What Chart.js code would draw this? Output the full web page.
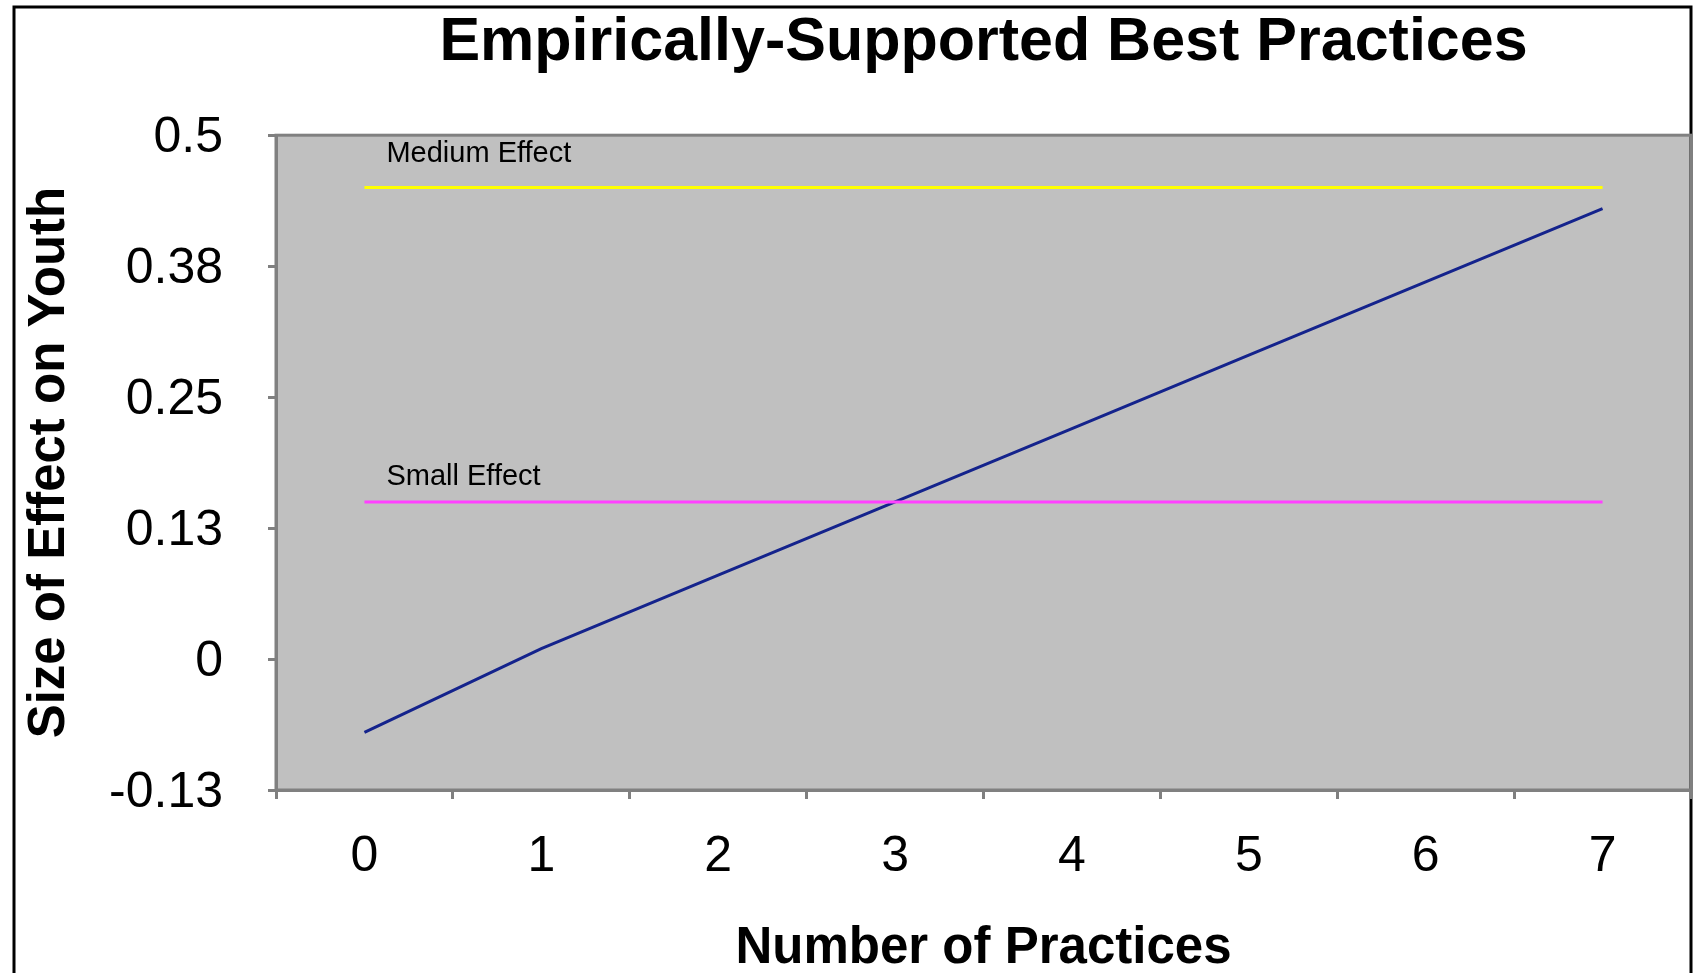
<!DOCTYPE html>
<html>
<head>
<meta charset="utf-8">
<script src="https://cdn.jsdelivr.net/npm/chart.js@4"></script>
<style>
  html, body { margin: 0; padding: 0; background: #fff; }
  #wrap { width: 1700px; height: 973px; }
</style>
</head>
<body>
<div id="wrap"><canvas id="effectChart" width="1700" height="973"></canvas></div>
<script>
// Dữ liệu
const practices = ['0', '1', '2', '3', '4', '5', '6', '7'];
const effectSize = [-0.07, 0.01, 0.08, 0.15, 0.22, 0.29, 0.36, 0.43];
const mediumEffect = [0.45, 0.45, 0.45, 0.45, 0.45, 0.45, 0.45, 0.45];
const smallEffect = [0.15, 0.15, 0.15, 0.15, 0.15, 0.15, 0.15, 0.15];
const yTickValues = [-0.125, 0, 0.125, 0.25, 0.375, 0.5];
const yTickLabels = ['-0.13', '0', '0.13', '0.25', '0.38', '0.5'];
const refLabels = ['Medium Effect', 'Small Effect'];

const FONT = "'Liberation Sans', Arial, sans-serif";

// khung đen bên ngoài + nền xám của vùng vẽ
const framePlugin = {
    id: 'frame',
    beforeDraw(chart) {
        const { ctx, chartArea } = chart;
        ctx.save();
        ctx.fillStyle = '#C0C0C0';
        ctx.fillRect(chartArea.left, chartArea.top, chartArea.right - chartArea.left, chartArea.bottom - chartArea.top);
        ctx.strokeStyle = '#000';
        ctx.lineWidth = 3;
        ctx.beginPath();
        ctx.moveTo(14, chart.height + 5);
        ctx.lineTo(14, 7);
        ctx.lineTo(chartArea.right, 7);
        ctx.lineTo(chartArea.right, chart.height + 5);
        ctx.stroke();
        ctx.restore();
    },
    afterDatasetsDraw(chart) {
        const { ctx, chartArea, scales } = chart;
        ctx.save();
        // nhãn cho các đường tham chiếu
        ctx.fillStyle = '#000';
        ctx.font = '29px ' + FONT;
        ctx.textBaseline = 'middle';
        ctx.textAlign = 'left';
        const x0 = scales.x.getPixelForValue(0) + 22;
        ctx.fillText(refLabels[0], x0, scales.y.getPixelForValue(mediumEffect[0]) - 34);
        ctx.fillText(refLabels[1], x0, scales.y.getPixelForValue(smallEffect[0]) - 25);
        // viền xám vùng vẽ
        ctx.strokeStyle = '#808080';
        ctx.lineWidth = 3;
        ctx.strokeRect(chartArea.left, chartArea.top, chartArea.right - chartArea.left, chartArea.bottom - chartArea.top);
        ctx.restore();
    }
};

const ctx = document.getElementById('effectChart').getContext('2d');
new Chart(ctx, {
    type: 'line',
    data: {
        labels: practices,
        datasets: [
            {
                label: 'Medium Effect',
                data: mediumEffect,
                borderColor: '#FFFF00',
                borderWidth: 3,
                pointRadius: 0,
                tension: 0
            },
            {
                label: 'Small Effect',
                data: smallEffect,
                borderColor: '#FF40FF',
                borderWidth: 3,
                pointRadius: 0,
                tension: 0
            },
            {
                label: 'Effect Size',
                data: effectSize,
                borderColor: '#14238C',
                borderWidth: 3,
                pointRadius: 0,
                tension: 0
            }
        ]
    },
    options: {
        responsive: false,
        animation: false,
        devicePixelRatio: 1,
        layout: { padding: { left: 0, right: 9, top: 0, bottom: 0 } },
        plugins: {
            legend: { display: false },
            tooltip: { enabled: false },
            title: {
                display: true,
                text: 'Empirically-Supported Best Practices',
                fullSize: false,
                color: '#000',
                font: { family: FONT, size: 61, weight: 'bold', lineHeight: 1.2 },
                padding: { top: 7, bottom: 55 }
            }
        },
        scales: {
            x: {
                type: 'category',
                offset: true,
                grid: {
                    offset: true,
                    drawOnChartArea: false,
                    drawTicks: true,
                    tickLength: 9,
                    color: '#808080',
                    lineWidth: 3
                },
                border: { display: true, color: '#808080', width: 3 },
                ticks: {
                    color: '#000',
                    padding: 28,
                    font: { family: FONT, size: 50 }
                },
                title: {
                    display: true,
                    text: 'Number of Practices',
                    color: '#000',
                    font: { family: FONT, size: 51, weight: 'bold', lineHeight: 1.1 },
                    padding: { top: 0, bottom: -4 }
                },
                afterFit(scale) { scale.height = 183; }
            },
            y: {
                min: -0.125,
                max: 0.5,
                afterBuildTicks(scale) {
                    scale.ticks = yTickValues.map(v => ({ value: v }));
                },
                grid: {
                    drawOnChartArea: false,
                    drawTicks: true,
                    tickLength: 8,
                    color: '#808080',
                    lineWidth: 3
                },
                border: { display: true, color: '#808080', width: 3 },
                ticks: {
                    color: '#000',
                    padding: 45,
                    labelOffset: 3,
                    font: { family: FONT, size: 50 },
                    callback: (value, index) => yTickLabels[index]
                },
                title: {
                    display: true,
                    text: 'Size of Effect on Youth',
                    color: '#000',
                    font: { family: FONT, size: 51, weight: 'bold', lineHeight: 1.2 },
                    padding: { top: 19, bottom: 0 }
                },
                afterFit(scale) { scale.width = 276; }
            }
        }
    },
    plugins: [framePlugin]
});
</script>
</body>
</html>
